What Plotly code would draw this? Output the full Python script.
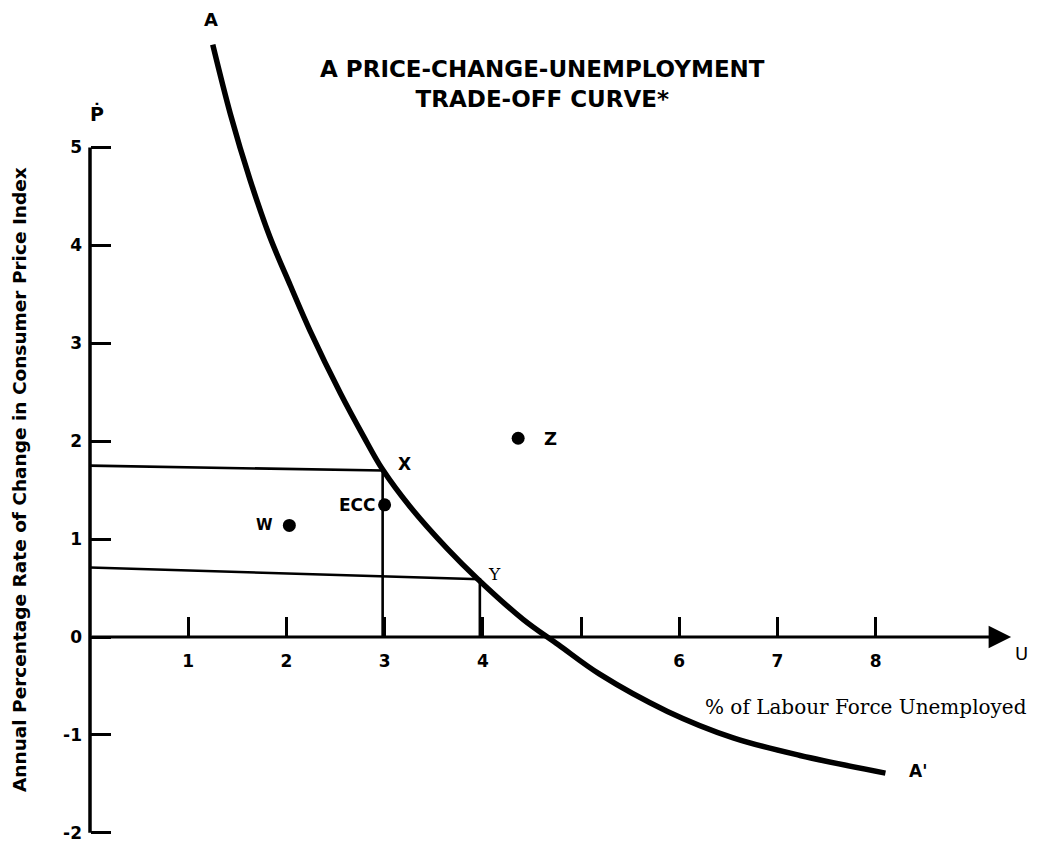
import plotly.graph_objects as go

# ---------------- data ----------------
# Trade-off curve A-A' (U = % unemployed, P = % change in CPI)
curve_u = [1.25, 1.43, 1.63, 1.83, 2.04, 2.24, 2.55, 2.78, 2.98, 3.26, 3.64,
           3.95, 4.41, 4.77, 5.19, 5.88, 6.55, 7.23, 8.10]
curve_p = [6.05, 5.34, 4.67, 4.09, 3.59, 3.13, 2.49, 2.06, 1.71, 1.33, 0.90,
           0.59, 0.18, -0.08, -0.38, -0.76, -1.03, -1.21, -1.39]

# Points off/on the curve
point_names = ["W", "ECC", "Z"]
point_u = [2.03, 3.00, 4.36]
point_p = [1.14, 1.35, 2.03]

# Guide lines to points X and Y on the curve
x_point = (2.98, 1.70)
y_point = (3.97, 0.59)
x_guide_left_p = 1.75
y_guide_left_p = 0.71

# Axis ticks
y_tick_vals = [-2, -1, 0, 1, 2, 3, 4, 5]
y_tick_text = ["-2", "-1", "0", "1", "2", "3", "4", "5"]
x_tick_vals = [1, 2, 3, 4, 5, 6, 7, 8]
x_tick_text = ["1", "2", "3", "4", "", "6", "7", "8"]
u_axis_end = 9.38
p_axis_min, p_axis_max = -2, 5

# ---------------- layout geometry (page pixels) ----------------
PAGE_W, PAGE_H = 1039, 843
OFF = 8                           # default body margin of the html page
W, H = PAGE_W - OFF, PAGE_H - OFF
PL, PR, PT, PB = 55, 1030, 10, 843   # plot area edges in page pixels
ML, MT = PL - OFF, PT - OFF
MR, MB = W - (PR - OFF), H - (PB - OFF)
X0_PX, Y0_PX = 90.0, 637.0      # page pixel of the origin
SX, SY = 98.2, 97.9              # pixels per unit
x_range = [(PL - X0_PX) / SX, (PR - X0_PX) / SX]
y_range = [(Y0_PX - PB) / SY, (Y0_PX - PT) / SY]
PW, PH = PR - PL, PB - PT


def paper_x(px):
    return (px - PL) / PW


def paper_y(py):
    return (PB - py) / PH


BLACK = "black"
fig = go.Figure()

# curve
fig.add_trace(go.Scatter(
    x=curve_u, y=curve_p, mode="lines",
    line=dict(color=BLACK, width=5.5, shape="spline", smoothing=1.0),
    cliponaxis=False, hoverinfo="skip", showlegend=False))

# guide lines
gx = [0, x_point[0], x_point[0], None, 0, y_point[0], y_point[0]]
gy = [x_guide_left_p, x_point[1], 0, None, y_guide_left_p, y_point[1], 0]
fig.add_trace(go.Scatter(
    x=gx, y=gy, mode="lines", line=dict(color=BLACK, width=2.6),
    hoverinfo="skip", showlegend=False))

# points
fig.add_trace(go.Scatter(
    x=point_u, y=point_p, mode="markers",
    marker=dict(color=BLACK, size=13), hoverinfo="skip", showlegend=False))

# vertical P axis line
fig.add_shape(type="line", x0=0, x1=0, y0=p_axis_min, y1=p_axis_max,
              xref="x", yref="y", line=dict(color=BLACK, width=3.5))

# horizontal U axis with arrow
fig.add_annotation(x=u_axis_end, y=0, ax=0, ay=0, xref="x", yref="y",
                   axref="x", ayref="y", text="", showarrow=True,
                   arrowhead=2, arrowsize=1.5, arrowwidth=3, arrowcolor=BLACK)


def label(text, x, y, size=15, xanchor="center", yanchor="middle",
          family="DejaVu Sans", weight="bold"):
    fig.add_annotation(x=x, y=y, xref="x", yref="y", text=text, showarrow=False,
                       xanchor=xanchor, yanchor=yanchor,
                       font=dict(family=family, size=size, color=BLACK, weight=weight))


# point labels
label(point_names[0], point_u[0] - 0.25, point_p[0], size=15)
label(point_names[1], point_u[1] - 0.07, point_p[1], size=17, xanchor="right")
label(point_names[2], point_u[2] + 0.33, point_p[2], size=18)
label("X", x_point[0] + 0.22, x_point[1] + 0.07, size=17)
label("Y", y_point[0] + 0.15, y_point[1] + 0.05, size=17, family="DejaVu Serif", weight="normal")
label("A", curve_u[0] - 0.02, 6.31, size=18)
label("A'", 8.43, -1.37, size=17)
label("U", 9.49, -0.17, size=18, family="DejaVu Sans", weight="normal")
label("Ṗ", 0.07, 5.35, size=19)
label("% of Labour Force Unemployed", 9.56, -0.72, size=20, xanchor="right",
      family="DejaVu Serif", weight="normal")

# title
fig.add_annotation(x=paper_x(542), y=paper_y(84), xref="paper", yref="paper",
                   text="A PRICE-CHANGE-UNEMPLOYMENT<br>TRADE-OFF CURVE*",
                   showarrow=False, xanchor="center", yanchor="middle", align="center",
                   font=dict(family="DejaVu Sans", size=23, color=BLACK, weight="bold"))

# y-axis title
fig.add_annotation(x=paper_x(19), y=paper_y(480), xref="paper", yref="paper",
                   text="Annual Percentage Rate of Change in Consumer Price Index",
                   textangle=-90, showarrow=False, xanchor="center", yanchor="middle",
                   font=dict(family="DejaVu Sans", size=18.5, color=BLACK, weight="bold"))

tick_font = dict(family="DejaVu Sans", size=17, color=BLACK, weight="bold")
fig.update_layout(
    width=W, height=H,
    margin=dict(l=ML, r=MR, t=MT, b=MB, pad=0, autoexpand=False),
    paper_bgcolor="white", plot_bgcolor="white",
    showlegend=False,
    xaxis=dict(range=x_range, anchor="free",
               position=(0 - y_range[0]) / (y_range[1] - y_range[0]),
               showgrid=False, zeroline=False, showline=False,
               ticks="inside", ticklen=20, tickwidth=3, tickcolor=BLACK,
               tickvals=x_tick_vals, ticktext=x_tick_text, tickfont=tick_font,
               ticklabelstandoff=12, fixedrange=True),
    yaxis=dict(range=y_range, anchor="free",
               position=(0 - x_range[0]) / (x_range[1] - x_range[0]),
               showgrid=False, zeroline=False, showline=False,
               ticks="inside", ticklen=20, tickwidth=3, tickcolor=BLACK,
               tickvals=y_tick_vals, ticktext=y_tick_text, tickfont=tick_font,
               ticklabelstandoff=8, ticklabeloverflow="allow", fixedrange=True),
)

fig.write_html("out.html")
